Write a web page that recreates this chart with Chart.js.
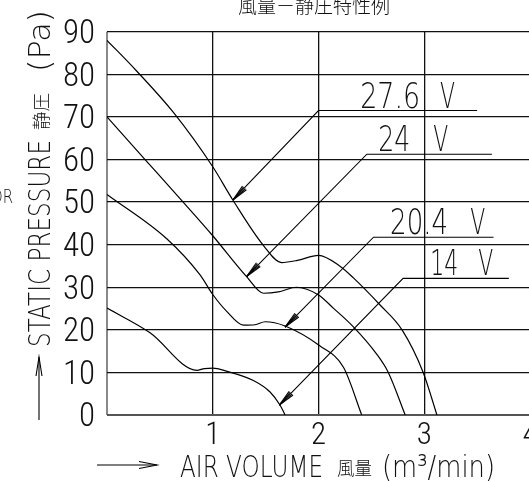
<!DOCTYPE html>
<html><head><meta charset="utf-8">
<script src="https://cdn.jsdelivr.net/npm/chart.js@4/dist/chart.umd.min.js"></script>
<style>
html,body{margin:0;padding:0;background:#fff;overflow:hidden;width:529px;height:481px}
#wrap{position:absolute;left:0;top:0;width:545px;height:481px}
</style></head><body>
<div id="wrap"><canvas id="c"></canvas></div>
<script>
// ---- data (m3/min , Pa) ----
const xTickValues = [0, 1, 2, 3, 4];
const yTickValues = [0, 10, 20, 30, 40, 50, 60, 70, 80, 90];

const v276X = [0, 0.28, 0.63, 1.0, 1.19, 1.48, 1.65, 1.80, 2.0, 2.20, 2.33, 2.58, 2.79, 2.99, 3.12];
const v276Y = [88, 80.8, 71, 58.3, 50.5, 39.8, 35.8, 36.3, 37.5, 35.0, 32.2, 25.9, 20, 10, 0];

const v24X = [0, 0.36, 0.72, 1.0, 1.32, 1.48, 1.62, 1.79, 2.0, 2.14, 2.33, 2.55, 2.66, 2.82];
const v24Y = [70, 60, 50, 42.1, 32.5, 28.6, 28.9, 30.0, 28.2, 25.1, 20.7, 14.3, 10, 0];

const v204X = [0, 0.565, 0.88, 1.0, 1.13, 1.29, 1.40, 1.495, 1.684, 2.015, 2.236, 2.409];
const v204Y = [51.8, 41.4, 32.9, 28.3, 24.4, 21.1, 21.2, 21.9, 20.9, 16.2, 11.2, 0];

const v14X = [0, 0.407, 0.85, 0.92, 1.0, 1.13, 1.384, 1.542, 1.637, 1.684];
const v14Y = [25.1, 19.3, 10.5, 10.9, 11.0, 10.3, 8.1, 5.4, 2.3, 0];

// leader lines: [arrow tip on curve, elbow, end of underline]
const lead276X = [1.19, 2.0, 3.50];   const lead276Y = [50.5, 71.5, 71.5];
const lead24X  = [1.32, 2.457, 3.64]; const lead24Y  = [32.5, 61.25, 61.25];
const lead204X = [1.684, 2.52, 3.655];const lead204Y = [20.65, 41.76, 41.76];
const lead14X  = [1.63, 2.80, 3.80];  const lead14Y  = [2.32, 32.1, 32.1];

const seriesLabels = ['27.6', '24', '20.4', '14'];
const unitLabel = 'V';
const labelNumX = [2.394, 2.564, 2.677, 3.056];
const labelUnitX = [3.15, 3.084, 3.434, 3.51];

const titleText = '風量－静圧特性例';
const xTitleParts = ['AIR VOLUME', '風量', '(m³/min)'];
const yTitleParts = ['STATIC PRESSURE', '静圧', '(Pa)'];

const TICKFONT = '"Roboto Condensed","DejaVu Sans Condensed",sans-serif';
const THIN = '"DejaVu Sans",sans-serif';
const CJK = '"Noto Sans CJK JP","Noto Sans CJK SC",sans-serif';

const zip = (xs, ys) => xs.map((x, i) => ({x, y: ys[i]}));
const curve = d => ({data: d, showLine: true, borderColor: '#000', borderWidth: 1.2,
  pointRadius: 0, cubicInterpolationMode: 'monotone', fill: false});
const leader = d => ({data: d, showLine: true, borderColor: '#000', borderWidth: 1.1,
  pointRadius: 0, tension: 0, fill: false});

const leaders = [zip(lead276X, lead276Y), zip(lead24X, lead24Y), zip(lead204X, lead204Y), zip(lead14X, lead14Y)];
const numWidths = [60, 32, 58, 28];

function fitText(ctx, str, x, y, width, font) {
  ctx.save();
  ctx.font = font;
  const w = ctx.measureText(str).width;
  ctx.translate(x, y);
  ctx.scale(width / w, 1);
  ctx.fillText(str, 0, 0);
  ctx.restore();
}
function line(ctx, pts) {
  ctx.beginPath(); ctx.moveTo(pts[0][0], pts[0][1]);
  for (let i = 1; i < pts.length; i++) ctx.lineTo(pts[i][0], pts[i][1]);
  ctx.stroke();
}

const decor = {
  id: 'decor',
  afterDraw(chart) {
    const ctx = chart.ctx, xs = chart.scales.x, ys = chart.scales.y;
    ctx.save();
    ctx.fillStyle = '#111'; ctx.strokeStyle = '#000'; ctx.lineWidth = 1.1;
    ctx.textAlign = 'left'; ctx.textBaseline = 'alphabetic';
    // arrowheads and voltage labels
    leaders.forEach((pts, i) => {
      const tx = xs.getPixelForValue(pts[0].x), ty = ys.getPixelForValue(pts[0].y);
      const ex = xs.getPixelForValue(pts[1].x), ey = ys.getPixelForValue(pts[1].y);
      const a = Math.atan2(ey - ty, ex - tx);
      const L = 17;
      [-0.16, -0.08, 0.08, 0.16].forEach(d => {
        line(ctx, [[tx, ty], [tx + L * Math.cos(a + d), ty + L * Math.sin(a + d)]]);
      });
      fitText(ctx, seriesLabels[i], xs.getPixelForValue(labelNumX[i]), ey - 3, numWidths[i], '200 35px ' + THIN);
      fitText(ctx, unitLabel, xs.getPixelForValue(labelUnitX[i]), ey - 3, 15, '200 35px ' + THIN);
    });
    // chart title
    ctx.font = '300 19px ' + CJK;
    ctx.textAlign = 'center'; ctx.textBaseline = 'middle';
    ctx.fillText(titleText, 314, 6);
    ctx.textAlign = 'left'; ctx.textBaseline = 'alphabetic';
    // x axis title
    fitText(ctx, xTitleParts[0], 180, 477, 143, '200 31px ' + THIN);
    fitText(ctx, xTitleParts[1], 337, 475, 35, '300 18px ' + CJK);
    fitText(ctx, xTitleParts[2], 382, 477, 113, '200 31px ' + THIN);
    // y axis title (rotated)
    ctx.save();
    ctx.translate(50, 347); ctx.rotate(-Math.PI / 2);
    fitText(ctx, yTitleParts[0], 0, 0, 207, '200 31px ' + THIN);
    fitText(ctx, yTitleParts[1], 217, -2, 37, '300 18px ' + CJK);
    fitText(ctx, yTitleParts[2], 275, 0, 62, '200 31px ' + THIN);
    ctx.restore();
    // axis arrows
    line(ctx, [[97, 465], [157, 465]]);
    line(ctx, [[139, 461.5], [157, 465], [139, 468.5]]);
    line(ctx, [[39, 420], [39, 357]]);
    line(ctx, [[36, 376], [39, 357], [42, 376]]);
    // cut-off text at left edge
    fitText(ctx, 'OR', -9, 203, 22, '200 20px ' + THIN);
    ctx.restore();
  }
};

new Chart(document.getElementById('c'), {
  type: 'scatter',
  data: {datasets: [
    curve(zip(v276X, v276Y)), curve(zip(v24X, v24Y)), curve(zip(v204X, v204Y)), curve(zip(v14X, v14Y)),
    ...leaders.map(leader)
  ]},
  options: {
    responsive: true, maintainAspectRatio: false, animation: false,
    layout: {padding: {left: 0, top: 27, right: 15, bottom: 0}},
    plugins: {legend: {display: false}, tooltip: {enabled: false}},
    scales: {
      x: {
        type: 'linear', min: xTickValues[0], max: xTickValues[xTickValues.length - 1],
        afterBuildTicks: s => { s.ticks = xTickValues.map(v => ({value: v})); },
        ticks: {autoSkip: false, maxRotation: 0, font: {family: TICKFONT, size: 31, weight: '300'}, color: '#111', padding: 3,
          callback: v => (v === 0 ? '' : String(v))},
        grid: {drawTicks: false,
          color: c => (c.tick && c.tick.value === 0 ? '#888' : '#111'),
          lineWidth: c => (c.tick && c.tick.value === 0 ? 2 : 1.3)},
        border: {display: false},
        afterFit: s => { s.height = 66; }
      },
      y: {
        type: 'linear', min: yTickValues[0], max: yTickValues[yTickValues.length - 1],
        afterBuildTicks: s => { s.ticks = yTickValues.map(v => ({value: v})); },
        ticks: {autoSkip: false, font: {family: TICKFONT, size: 33, weight: '300'}, color: '#111', padding: 12, labelOffset: 3},
        grid: {drawTicks: false,
          color: c => (c.tick && c.tick.value === 0 ? '#555' : '#111'),
          lineWidth: c => (c.tick && c.tick.value === 0 ? 2 : 1.3)},
        border: {display: false},
        afterFit: s => { s.width = 107; }
      }
    }
  },
  plugins: [decor]
});
</script>
</body></html>
